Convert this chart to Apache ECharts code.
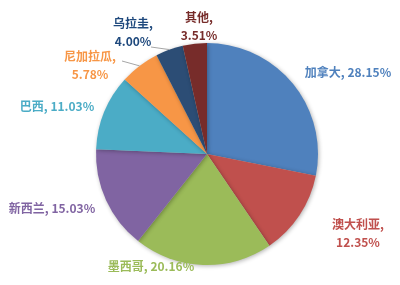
<!DOCTYPE html>
<html><head><meta charset="utf-8">
<script src="https://cdn.jsdelivr.net/npm/echarts@6/dist/echarts.min.js"></script>
<style>html,body{margin:0;padding:0;background:#fff}#c{width:400px;height:285px}</style>
</head><body><div id="c"></div>
<script>
const categories = ['加拿大','澳大利亚','墨西哥','新西兰','巴西','尼加拉瓜','乌拉圭','其他'];
const values = [28.15, 12.35, 20.16, 15.03, 11.03, 5.78, 4.00, 3.51];
const colors = ['#4F81BD','#C0504D','#9BBB59','#8064A2','#4BACC6','#F79646','#2C4D75','#772C2A'];
const labelColors = ['#4F81BD','#C0504D','#9BBB59','#8064A2','#4BACC6','#F79646','#1F497D','#772C2A'];
const twoLine = [false, true, false, false, false, true, true, true];
// label centre positions (layout, px)
const labelPos = [[348,72],[358,233],[151,266],[52,208],[57,106],[90,65],[133,32],[199,26]];
// leader line end points at the label side (layout, px); null = no leader line
const leaderEnd = [null,null,null,null,null,[122,61],[151,47],null];
// slice-edge anchor points reported by the pie's own label layout
const edgePts = [];

const chart = echarts.init(document.getElementById('c'), null, {renderer:'canvas'});
chart.setOption({
  animation:false,
  series:[{
    type:'pie',
    center:[207,154],
    radius:[0,111],
    startAngle:90,
    clockwise:true,
    avoidLabelOverlap:false,
    itemStyle:{shadowBlur:4, shadowColor:'rgba(0,0,0,0.3)', shadowOffsetX:1, shadowOffsetY:1},
    label:{
      show:true, position:'outside',
      fontFamily:'"Noto Sans CJK SC", sans-serif', fontSize:12, fontWeight:'bold', lineHeight:18,
      align:'center'
    },
    labelLine:{show:true, length:8, length2:8, lineStyle:{color:'rgba(0,0,0,0)'}},
    labelLayout: function(p){
      const i = p.dataIndex;
      if (p.labelLinePoints && p.labelLinePoints[0]) edgePts[i] = p.labelLinePoints[0].slice();
      const pos = labelPos[i];
      return {x:pos[0], y:pos[1], align:'center', verticalAlign:'middle', hideOverlap:false};
    },
    data: categories.map((n,i)=>({
      name:n, value:values[i],
      itemStyle:{color:colors[i]},
      label:{color:labelColors[i], formatter: n + (twoLine[i] ? ',\n' : ', ') + values[i].toFixed(2) + '%'}
    }))
  }]
});
const lines = [];
leaderEnd.forEach(function(end, i){
  if (!end || !edgePts[i]) return;
  const s = edgePts[i];
  lines.push({type:'line', z:100, silent:true,
    shape:{x1:s[0], y1:s[1], x2:end[0], y2:end[1]}, style:{stroke:'#A6A6A6', lineWidth:1}});
});
if (lines.length) chart.setOption({graphic:lines});
</script></body></html>
